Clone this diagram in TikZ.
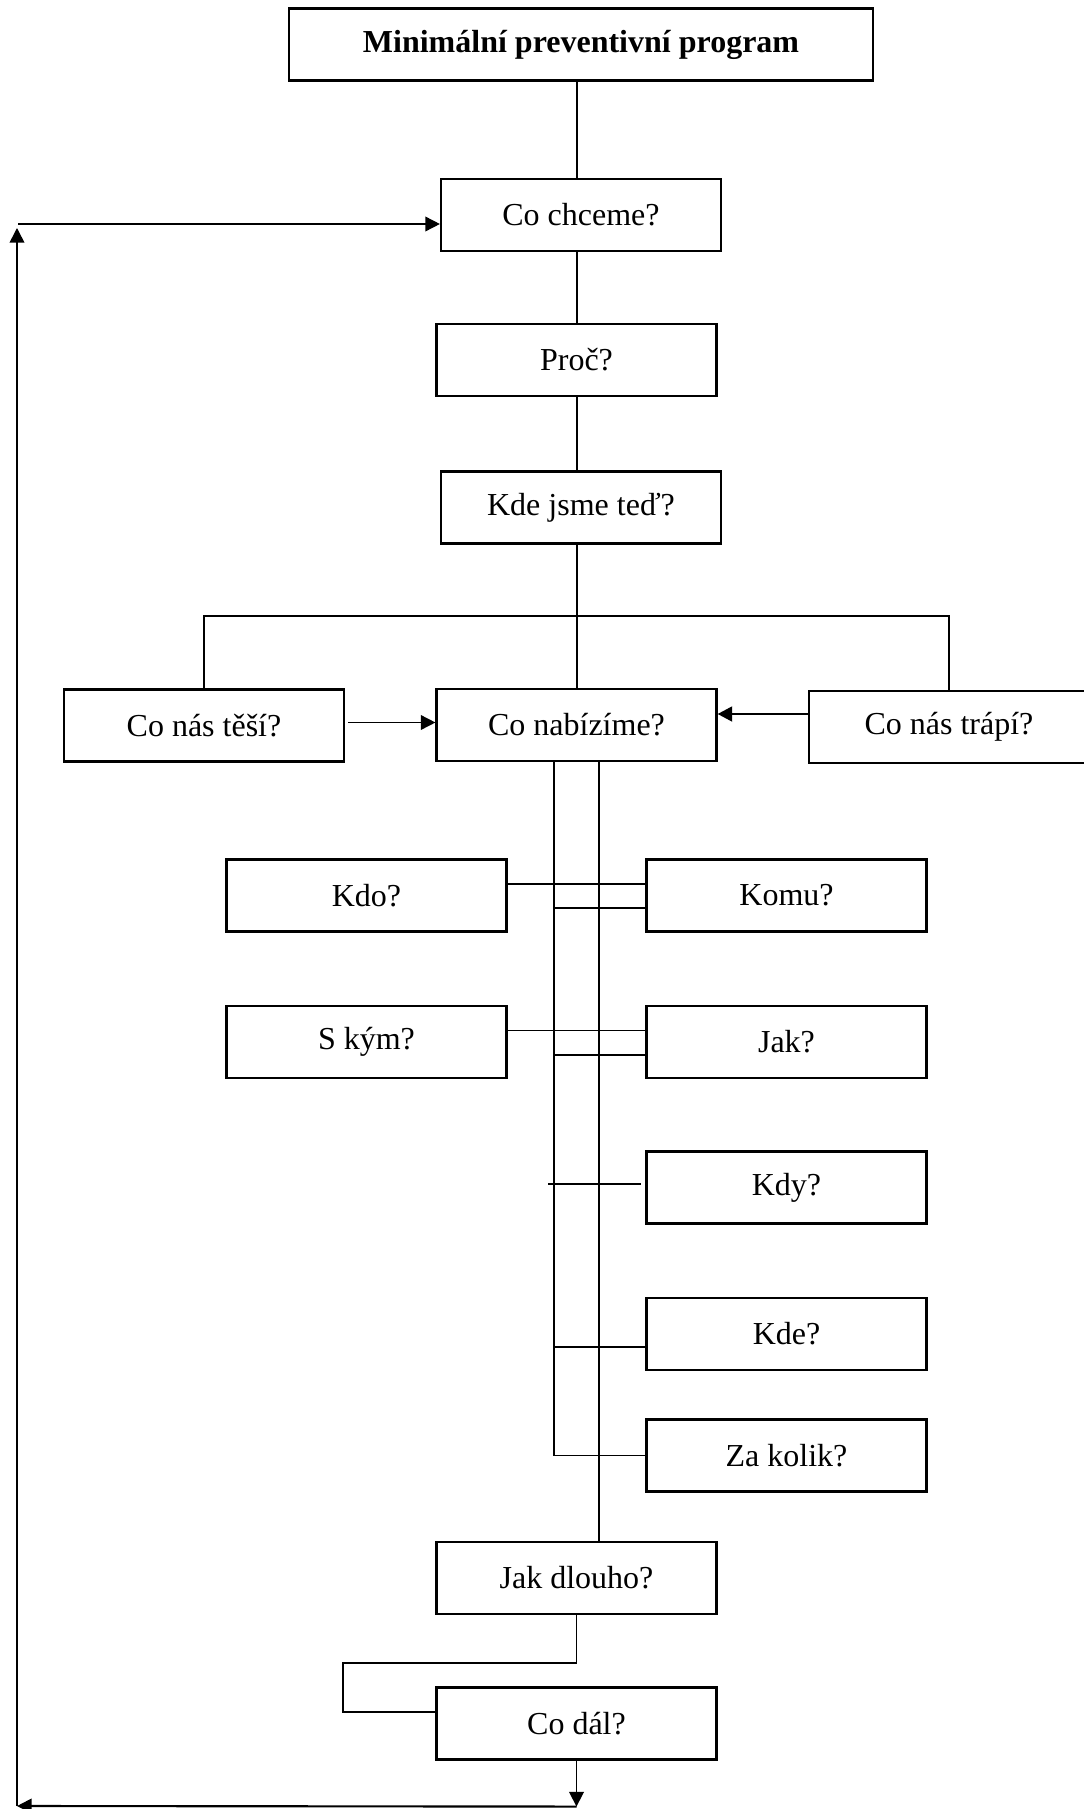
\documentclass[tikz,border=0pt]{standalone}
\usepackage{fontspec}
\setmainfont{Liberation Serif}
\usetikzlibrary{arrows.meta,calc}

\begin{document}
\begin{tikzpicture}[x=0.375pt,y=-0.375pt,line width=0.6pt,
    box/.style={draw,line width=0.8pt,minimum width=105pt,minimum height=27pt,inner sep=0pt,font=\fontsize{12}{14}\selectfont},
    tip/.style={-{Triangle[length=5.5pt,width=5.5pt]}}]
    \useasboundingbox (0,0) rectangle (1083,1809);

    \node [box,minimum width=219pt,font=\bfseries\fontsize{12}{14}\selectfont] (title) at (581,44.5) {Minimální preventivní program};
    \node [box] (chceme) at (581,215) {Co chceme?};
    \node [box] (proc) at (576.5,360) {Proč?};
    \node [box] (kde) at (581,507.5) {Kde jsme teď?};
    \node [box] (tesi) at (204,725.5) {Co nás těší?};
    \node [box] (nabizime) at (576.5,725) {Co nabízíme?};
    \node [box] (trapi) at (949,727) {Co nás trápí?};
    \node [box] (kdo) at (366.5,895.5) {Kdo?};
    \node [box] (komu) at (786.5,895.5) {Komu?};
    \node [box] (skym) at (366.5,1042) {S kým?};
    \node [box] (jak) at (786.5,1042) {Jak?};
    \node [box] (kdy) at (786.5,1187.5) {Kdy?};
    \node [box] (kdemisto) at (786.5,1334) {Kde?};
    \node [box] (zakolik) at (786.5,1455.5) {Za kolik?};
    \node [box] (jakdlouho) at (576.5,1578) {Jak dlouho?};
    \node [box] (codal) at (576.5,1723.5) {Co dál?};

    % main column
    \coordinate (spine) at (577,0);
    \draw (title.south -| spine) -- (chceme.north -| spine);
    \draw (chceme.south -| spine) -- (proc.north -| spine);
    \draw (proc.south -| spine) -- (kde.north -| spine);
    \draw (kde.south -| spine) -- (nabizime.north -| spine);
    \coordinate (split) at (577,616);
    \draw (tesi.north) |- (split) -| (trapi.north);

    \coordinate (tesiout) at ($(tesi.east)+(3,-3)$);
    \draw [tip] (tesiout) -- (tesiout -| nabizime.west);
    \coordinate (trapiout) at ($(trapi.west)+(0,-13)$);
    \draw [tip,line width=1.1pt] (trapiout) -- (trapiout -| nabizime.east);

    % rails
    \coordinate (lrail) at (554,0);
    \coordinate (rrail) at (599,0);
    \draw (nabizime.south -| lrail) |- (zakolik.west);
    \draw (nabizime.south -| rrail) -- (jakdlouho.north -| rrail);

    \coordinate (kdoout) at ($(kdo.east)+(0,-11.5)$);
    \draw (kdoout) -- (kdoout -| komu.west);
    \coordinate (komuin) at ($(komu.west)+(0,12.5)$);
    \draw (komuin -| lrail) -- (komuin);
    \coordinate (skymout) at ($(skym.east)+(0,-11.5)$);
    \draw (skymout) -- (skymout -| jak.west);
    \coordinate (jakin) at ($(jak.west)+(0,13)$);
    \draw (jakin -| lrail) -- (jakin);
    \coordinate (kdyin) at ($(kdy.west)+(-4,-3.5)$);
    \coordinate (kdystub) at ($(kdyin -| lrail)+(-6,0)$);
    \draw (kdystub) -- (kdyin);
    \coordinate (kdein) at ($(kdemisto.west)+(0,13)$);
    \draw (kdein -| lrail) -- (kdein);

    \coordinate (bend) at (343,1663);
    \coordinate (codalin) at ($(codal.west)+(0,-11.5)$);
    \draw (jakdlouho.south) |- (bend) |- (codalin);

    % back loop
    \coordinate (lowR) at ($(codal.south)+(0,46)$);
    \coordinate (lowL) at (17,1806);
    \coordinate (upL) at (17,228);
    \coordinate (upR) at (18,224);
    \draw [tip] (codal.south) -- (lowR);
    \draw [tip,line width=0.8pt] (lowR) -- (lowL);
    \draw [tip] (lowL) -- (upL);
    \draw [tip] (upR) -- (upR -| chceme.west);

\end{tikzpicture}
\end{document}
